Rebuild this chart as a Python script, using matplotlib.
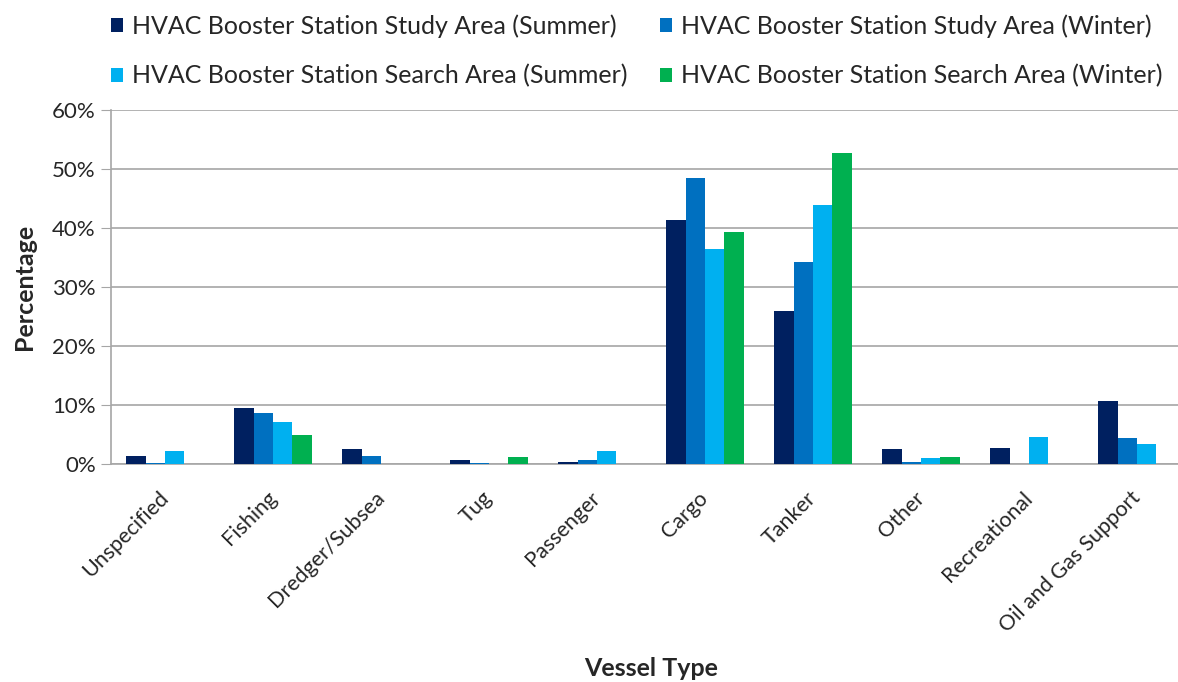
import numpy as np
import matplotlib.pyplot as plt
from matplotlib.ticker import PercentFormatter

# Vessel types and percentages
categories = ['Unspecified', 'Fishing', 'Dredger/Subsea', 'Tug', 'Passenger',
              'Cargo', 'Tanker', 'Other', 'Recreational', 'Oil and Gas Support']

study_summer = [1.4, 9.5, 2.6, 0.7, 0.4, 41.3, 25.9, 2.6, 2.8, 10.7]
study_winter = [0.2, 8.7, 1.4, 0.2, 0.7, 48.4, 34.2, 0.4, 0.0, 4.4]
search_summer = [2.2, 7.1, 0.0, 0.0, 2.2, 36.5, 43.9, 1.0, 4.6, 3.4]
search_winter = [0.0, 5.0, 0.0, 1.2, 0.0, 39.3, 52.7, 1.2, 0.0, 0.0]

series_names = ['HVAC Booster Station Study Area (Summer)',
                'HVAC Booster Station Study Area (Winter)',
                'HVAC Booster Station Search Area (Summer)',
                'HVAC Booster Station Search Area (Winter)']
colors = ['#002060', '#0070C0', '#00B0F0', '#00B050']

plt.rcParams['font.family'] = ['Lato', 'DejaVu Sans']
text_color = '#262626'

fig = plt.figure(figsize=(11.78, 6.82), dpi=100)
ax = fig.add_axes([111 / 1178, 1 - 464.3 / 682, 1080 / 1178, 354.3 / 682])

x = np.arange(len(categories))
width = 0.18
bars = []
for i, vals in enumerate([study_summer, study_winter, search_summer, search_winter]):
    b = ax.bar(x + (i - 1.5) * width, vals, width, color=colors[i],
               label=series_names[i], zorder=3)
    bars.append(b)

ax.set_xlim(-0.5, len(categories) - 0.5)
ax.set_ylim(0, 60)
ax.set_yticks(np.arange(0, 61, 10))
ax.yaxis.set_major_formatter(PercentFormatter(decimals=0))
ax.grid(axis='y', color='#A6A6A6', linewidth=1.2, zorder=0)

for side in ['top', 'right']:
    ax.spines[side].set_visible(False)
ax.spines['left'].set_color('#A6A6A6')
ax.spines['bottom'].set_color('#A6A6A6')
ax.spines['left'].set_linewidth(1.2)
ax.spines['bottom'].set_linewidth(1.2)

ax.tick_params(axis='y', length=7, color='#A6A6A6', labelsize=16,
               labelcolor=text_color, pad=4)
ax.tick_params(axis='x', length=0, labelsize=15.5, labelcolor=text_color, pad=22)
ax.set_xticks(x)
ax.set_xticklabels(categories, rotation=45, ha='right', va='center',
                   rotation_mode='anchor')

fig.text(24 / 1178, 1 - 287 / 682, 'Percentage', fontsize=18, rotation=90,
         fontweight='bold', color=text_color, ha='center', va='center')
fig.text(651 / 1178, 1 - 668 / 682, 'Vessel Type', fontsize=18,
         fontweight='bold', color=text_color, ha='center', va='center')

order = [0, 2, 1, 3]
fig.legend([bars[i] for i in order], [series_names[i] for i in order],
           ncol=2, loc='upper left', bbox_to_anchor=(98 / 1178, 1 - 2 / 682),
           frameon=False, fontsize=18, handlelength=0.5, handleheight=0.5,
           handletextpad=0.35, columnspacing=1.3, labelspacing=1.05,
           borderpad=0, labelcolor=text_color)

plt.savefig('out.png', dpi=100)
